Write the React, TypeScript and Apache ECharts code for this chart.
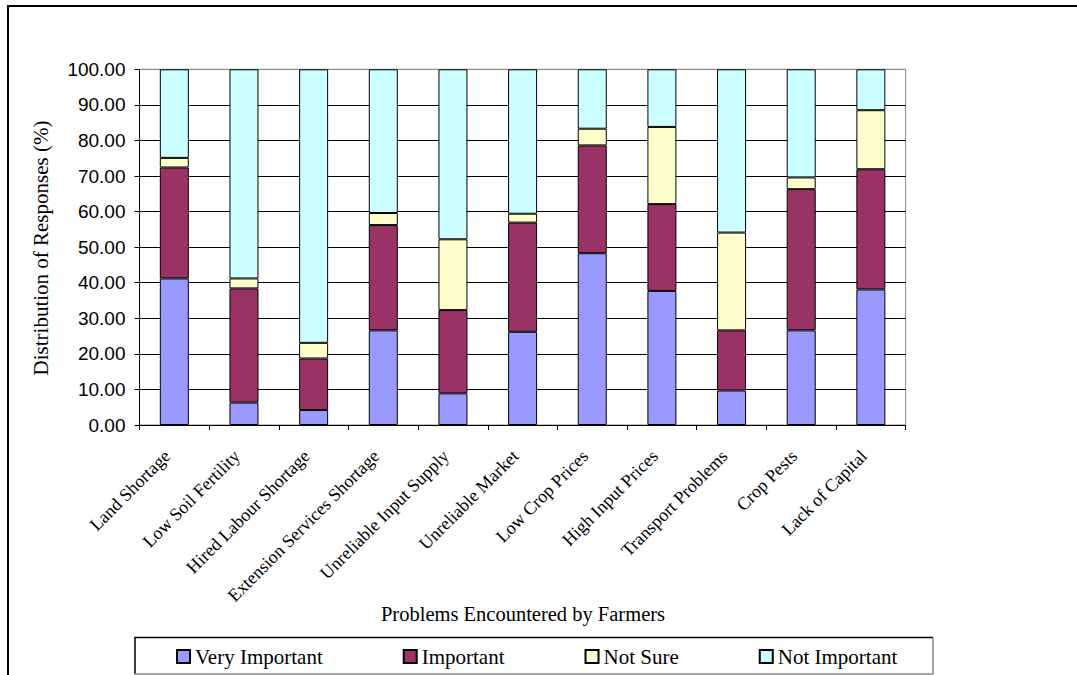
import React, { useEffect, useRef } from "react";
import * as echarts from "echarts";

// Problems encountered by farmers and how their responses are distributed (%)
const categories = [
  "Land Shortage",
  "Low Soil Fertility",
  "Hired Labour Shortage",
  "Extension Services Shortage",
  "Unreliable Input Supply",
  "Unreliable Market",
  "Low Crop Prices",
  "High Input Prices",
  "Transport Problems",
  "Crop Pests",
  "Lack of Capital",
];

const veryImportant = [41.2, 6.3, 4.2, 26.6, 8.9, 26.2, 48.3, 37.7, 9.7, 26.6, 38.1];
const important = [31.2, 32.1, 14.5, 29.6, 23.4, 30.7, 30.3, 24.4, 16.9, 39.7, 33.8];
const notSure = [2.7, 2.8, 4.4, 3.4, 19.9, 2.5, 4.7, 21.7, 27.5, 3.3, 16.6];
const notImportant = [24.9, 58.8, 76.9, 40.4, 47.8, 40.6, 16.7, 16.2, 45.9, 30.4, 11.5];

const seriesNames = ["Very Important", "Important", "Not Sure", "Not Important"];
const seriesColors = ["#9999FF", "#993366", "#FFFFCC", "#CCFFFF"];

const SERIF = "Liberation Serif";
const SANS = "Liberation Sans";

export default function App() {
  const ref = useRef<HTMLDivElement>(null);

  useEffect(() => {
    document.body.style.margin = "0";
    if (!ref.current) return;
    const chart = echarts.init(ref.current, null, { renderer: "svg" });

    const values = [veryImportant, important, notSure, notImportant];
    const gridColors = ["#000", "#000", "#000", "#000", "#000", "#000", "#000", "#000", "#000", "#000", "#888"];

    chart.setOption({
      animation: false,
      backgroundColor: "#fff",
      grid: {
        left: 139.5,
        right: 171.3,
        top: 69.3,
        bottom: 250,
        show: true,
        borderColor: "#888",
        borderWidth: 1,
      },
      legend: {
        left: 176,
        top: 646,
        padding: 0,
        itemWidth: 13,
        itemHeight: 13,
        itemGap: 80,
        icon: "rect",
        data: seriesNames,
        textStyle: { fontFamily: SERIF, fontSize: 21, color: "#000", lineHeight: 21 },
      },
      xAxis: {
        type: "category",
        data: categories,
        axisLine: { lineStyle: { color: "#000", width: 1 } },
        axisTick: { show: true, inside: false, length: 5, lineStyle: { color: "#000" } },
        axisLabel: {
          interval: 0,
          rotate: 45,
          margin: 21,
          padding: [0, 10, 0, 0],
          fontFamily: SERIF,
          fontSize: 18,
          color: "#000",
        },
      },
      yAxis: {
        type: "value",
        min: 0,
        max: 100,
        interval: 10,
        axisLine: { show: true, lineStyle: { color: "#000", width: 1 } },
        axisTick: { show: true, inside: false, length: 5, lineStyle: { color: "#000" } },
        axisLabel: {
          margin: 14,
          fontFamily: SANS,
          fontSize: 19,
          color: "#000",
          formatter: (v: number) => v.toFixed(2),
        },
        splitLine: { show: true, lineStyle: { color: gridColors, width: 1 } },
      },
      series: seriesNames.map((name, i) => ({
        name,
        type: "bar",
        stack: "total",
        barWidth: 29,
        data: values[i],
        itemStyle: { color: seriesColors[i], borderColor: "#000", borderWidth: 1 },
      })),
      graphic: [
        // outer chart frame
        {
          type: "rect",
          shape: { x: 8, y: 6, width: 1200, height: 800 },
          style: { fill: "none", stroke: "#000", lineWidth: 2 },
          silent: true,
        },
        // legend box: dark top/left, grey bottom/right
        {
          type: "polyline",
          shape: { points: [[135, 674], [135, 637.5], [933, 637.5]] },
          style: { fill: "none", stroke: "#000", lineWidth: 1.5 },
          silent: true,
        },
        {
          type: "polyline",
          shape: { points: [[933, 637.5], [933, 674], [135, 674]] },
          style: { fill: "none", stroke: "#888", lineWidth: 1.5 },
          silent: true,
        },
        {
          type: "text",
          x: 41,
          y: 248,
          rotation: Math.PI / 2,
          style: {
            text: "Distribution of Responses (%)",
            fontFamily: SERIF,
            fontSize: 21,
            fill: "#000",
            align: "center",
            verticalAlign: "middle",
          },
          silent: true,
        },
        {
          type: "text",
          x: 523,
          y: 614,
          style: {
            text: "Problems Encountered by Farmers",
            fontFamily: SERIF,
            fontSize: 20.5,
            fill: "#000",
            align: "center",
            verticalAlign: "middle",
          },
          silent: true,
        },
      ],
    });

    return () => chart.dispose();
  }, []);

  return <div ref={ref} style={{ width: 1077, height: 675 }} />;
}
